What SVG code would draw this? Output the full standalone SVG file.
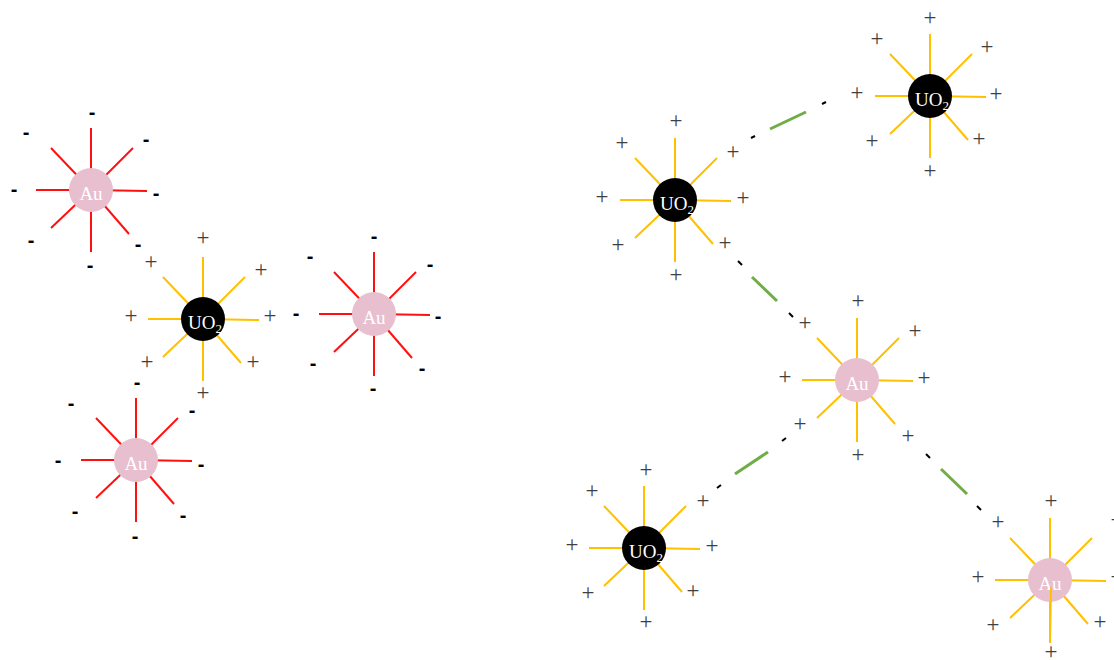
<svg xmlns="http://www.w3.org/2000/svg" xmlns:xlink="http://www.w3.org/1999/xlink" width="1114" height="660" viewBox="0 0 1114 660">
<style>
.rr{stroke:#ff1010;stroke-width:2;fill:none}
.ry{stroke:#ffc000;stroke-width:2;fill:none}
.au{fill:#e7bfcf}
.uo{fill:#000}
.lbl{font-family:"Liberation Serif","Times New Roman",serif;font-size:19px;fill:#fff;text-anchor:middle}
.p{font-family:"Liberation Serif","Times New Roman",serif;font-size:23px;fill:#404040;text-anchor:middle}
.m{font-family:"Liberation Sans",Arial,sans-serif;font-size:20px;font-weight:bold;fill:#000;text-anchor:middle}
.cb{stroke:#000;stroke-width:2}
.cg{stroke:#70ad47;stroke-width:3}
</style>
<defs>
<g id="rays">
<line x1="0" y1="0" x2="0" y2="-62"/>
<line x1="0" y1="0" x2="0" y2="62"/>
<line x1="0" y1="0" x2="-55" y2="0"/>
<line x1="0" y1="0" x2="56" y2="1"/>
<line x1="0" y1="0" x2="-40" y2="-42"/>
<line x1="0" y1="0" x2="42" y2="-42"/>
<line x1="0" y1="0" x2="-40" y2="38"/>
<line x1="0" y1="0" x2="38" y2="44"/>
</g>
</defs>
<g id="connectors">
<line class="cb" x1="751" y1="138" x2="755" y2="136"/>
<line class="cg" x1="770" y1="129" x2="806" y2="112"/>
<line class="cb" x1="822" y1="104" x2="826" y2="102"/>
<line class="cb" x1="738" y1="261" x2="742" y2="265"/>
<line class="cg" x1="752" y1="277" x2="777" y2="301"/>
<line class="cb" x1="789" y1="313" x2="793" y2="317"/>
<line class="cb" x1="717" y1="488" x2="721" y2="485"/>
<line class="cg" x1="735" y1="474" x2="768" y2="452"/>
<line class="cb" x1="782" y1="441" x2="786" y2="438"/>
<line class="cb" x1="926" y1="454" x2="930" y2="458"/>
<line class="cg" x1="941" y1="469" x2="967" y2="494"/>
<line class="cb" x1="977" y1="506" x2="981" y2="510"/>
</g>
<g id="au1">
<use xlink:href="#rays" class="rr" transform="translate(91,190)"/>
<circle class="au" cx="91" cy="190" r="22"/>
<text class="lbl" x="91" y="200">Au</text>
<text class="m" x="92" y="119">-</text><text class="m" x="26" y="139">-</text><text class="m" x="146" y="146">-</text><text class="m" x="14" y="196">-</text><text class="m" x="156" y="200">-</text><text class="m" x="31" y="247">-</text><text class="m" x="138" y="251">-</text><text class="m" x="90" y="272">-</text>
</g>
<g id="uo2a">
<use xlink:href="#rays" class="ry" transform="translate(203,319)"/>
<circle class="uo" cx="203" cy="319" r="22"/>
<text class="lbl" x="205" y="329">UO<tspan font-size="13" dy="4">2</tspan></text>
<text class="p" x="203" y="245">+</text><text class="p" x="261" y="277">+</text><text class="p" x="270" y="323">+</text><text class="p" x="253" y="369">+</text><text class="p" x="203" y="400">+</text><text class="p" x="147" y="369">+</text><text class="p" x="131" y="323">+</text><text class="p" x="151" y="269">+</text>
</g>
<g id="au2">
<use xlink:href="#rays" class="rr" transform="translate(374,314)"/>
<circle class="au" cx="374" cy="314" r="22"/>
<text class="lbl" x="374" y="324">Au</text>
<text class="m" x="374" y="243">-</text><text class="m" x="310" y="263">-</text><text class="m" x="430" y="271">-</text><text class="m" x="296" y="320">-</text><text class="m" x="438" y="323">-</text><text class="m" x="313" y="370">-</text><text class="m" x="422" y="375">-</text><text class="m" x="373" y="395">-</text>
</g>
<g id="au3">
<use xlink:href="#rays" class="rr" transform="translate(136,460)"/>
<circle class="au" cx="136" cy="460" r="22"/>
<text class="lbl" x="136" y="470">Au</text>
<text class="m" x="137" y="389">-</text><text class="m" x="71" y="410">-</text><text class="m" x="192" y="417">-</text><text class="m" x="58" y="467">-</text><text class="m" x="201" y="471">-</text><text class="m" x="75" y="518">-</text><text class="m" x="183" y="522">-</text><text class="m" x="135" y="543">-</text>
</g>
<g id="uo2b">
<use xlink:href="#rays" class="ry" transform="translate(675,200)"/>
<circle class="uo" cx="675" cy="200" r="22"/>
<text class="lbl" x="677" y="210">UO<tspan font-size="13" dy="4">2</tspan></text>
<text class="p" x="676" y="128">+</text><text class="p" x="622" y="150">+</text><text class="p" x="733" y="159">+</text><text class="p" x="602" y="204">+</text><text class="p" x="743" y="205">+</text><text class="p" x="618" y="252">+</text><text class="p" x="725" y="250">+</text><text class="p" x="676" y="282">+</text>
</g>
<g id="uo2c">
<use xlink:href="#rays" class="ry" transform="translate(930,96)"/>
<circle class="uo" cx="930" cy="96" r="22"/>
<text class="lbl" x="932" y="106">UO<tspan font-size="13" dy="4">2</tspan></text>
<text class="p" x="930" y="25">+</text><text class="p" x="877" y="46">+</text><text class="p" x="987" y="54">+</text><text class="p" x="857" y="100">+</text><text class="p" x="996" y="101">+</text><text class="p" x="872" y="148">+</text><text class="p" x="979" y="146">+</text><text class="p" x="930" y="178">+</text>
</g>
<g id="au4">
<use xlink:href="#rays" class="ry" transform="translate(857,380)"/>
<circle class="au" cx="857" cy="380" r="22"/>
<text class="lbl" x="857" y="390">Au</text>
<text class="p" x="858" y="308">+</text><text class="p" x="805" y="330">+</text><text class="p" x="915" y="338">+</text><text class="p" x="785" y="384">+</text><text class="p" x="924" y="385">+</text><text class="p" x="800" y="431">+</text><text class="p" x="908" y="443">+</text><text class="p" x="858" y="462">+</text>
</g>
<g id="uo2d">
<use xlink:href="#rays" class="ry" transform="translate(644,548)"/>
<circle class="uo" cx="644" cy="548" r="22"/>
<text class="lbl" x="646" y="558">UO<tspan font-size="13" dy="4">2</tspan></text>
<text class="p" x="646" y="477">+</text><text class="p" x="592" y="498">+</text><text class="p" x="703" y="508">+</text><text class="p" x="572" y="552">+</text><text class="p" x="712" y="553">+</text><text class="p" x="588" y="600">+</text><text class="p" x="693" y="598">+</text><text class="p" x="646" y="629">+</text>
</g>
<g id="au5">
<use xlink:href="#rays" class="ry" transform="translate(1050,580)"/>
<circle class="au" cx="1050" cy="580" r="22"/>
<text class="lbl" x="1050" y="590">Au</text>
<line x1="1051" y1="587" x2="1050" y2="643" stroke="#ffc000" stroke-width="2"/>
<text class="p" x="1051" y="508">+</text><text class="p" x="998" y="529">+</text><text class="p" x="1117" y="527">+</text><text class="p" x="978" y="584">+</text><text class="p" x="1117" y="584">+</text><text class="p" x="993" y="632">+</text><text class="p" x="1100" y="629">+</text><text class="p" x="1051" y="659">+</text>
</g>
</svg>
